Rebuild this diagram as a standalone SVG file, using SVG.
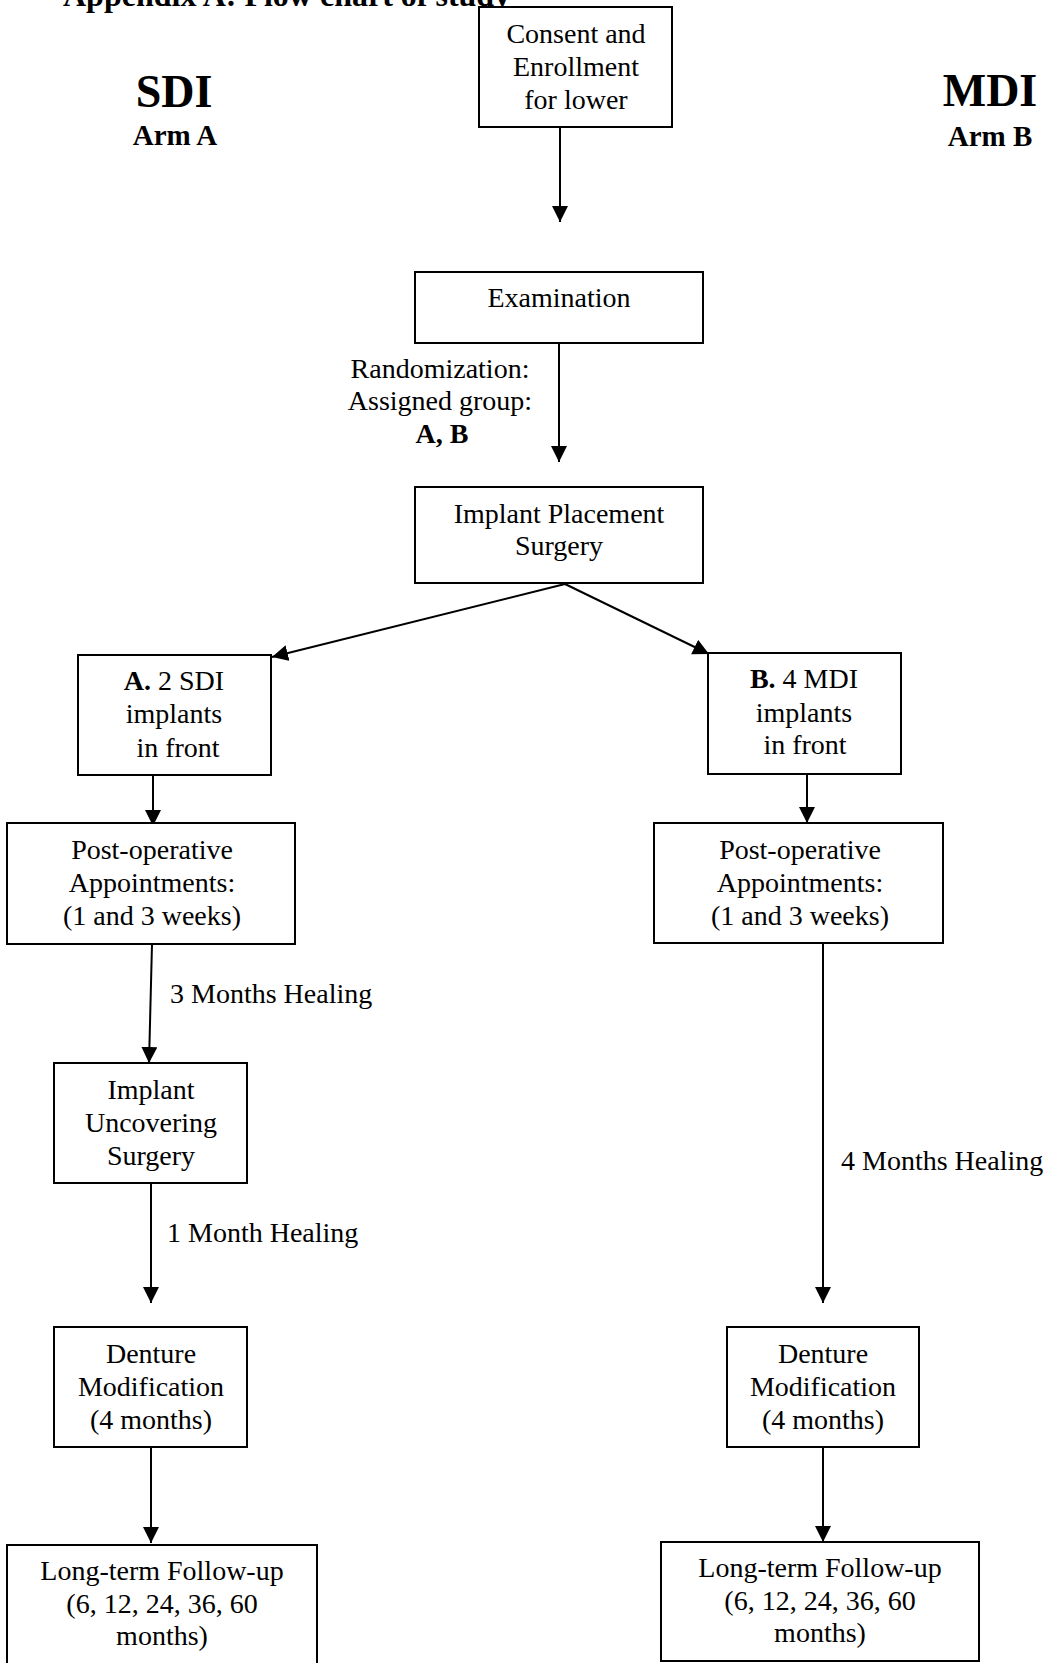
<svg xmlns="http://www.w3.org/2000/svg" width="1050" height="1663" viewBox="0 0 1050 1663">
<style>
.bg{fill:#ffffff}
.box{fill:#ffffff;stroke:#000000;stroke-width:2}
.t{font-family:"Liberation Serif","Times New Roman",serif;font-size:28px;fill:#000000;text-anchor:middle}
.l{font-family:"Liberation Serif","Times New Roman",serif;font-size:28px;fill:#000000}
.b{font-weight:bold}
.title{font-family:"Liberation Serif","Times New Roman",serif;font-size:32px;font-weight:bold;fill:#000000}
.arm{font-family:"Liberation Serif","Times New Roman",serif;font-weight:bold;fill:#000000;text-anchor:middle}
.edge{fill:none;stroke:#000000;stroke-width:2;marker-end:url(#arrow)}
</style>
<defs>
<marker id="arrow" markerUnits="userSpaceOnUse" markerWidth="18" markerHeight="18" refX="16" refY="8" orient="auto">
<path d="M0,0 L16,8 L0,16 z" fill="#000000"/>
</marker>
</defs>
<rect class="bg" x="0" y="0" width="1050" height="1663"/>

<g id="headings">
<text class="title" x="63" y="6">Appendix A: Flow chart of study</text>
<text class="arm" x="174" y="107" font-size="46">SDI</text>
<text class="arm" x="175" y="145" font-size="29">Arm A</text>
<text class="arm" x="990" y="106" font-size="46">MDI</text>
<text class="arm" x="990" y="146" font-size="29">Arm B</text>
</g>

<g id="connectors">
<line class="edge" x1="560" y1="127" x2="560" y2="222"/>
<line class="edge" x1="559" y1="343" x2="559" y2="462"/>
<line class="edge" x1="565" y1="584" x2="272" y2="657"/>
<line class="edge" x1="565" y1="584" x2="709" y2="654"/>
<line class="edge" x1="153" y1="775" x2="153" y2="826"/>
<line class="edge" x1="807" y1="774" x2="807" y2="823"/>
<line class="edge" x1="152" y1="944" x2="149" y2="1063"/>
<line class="edge" x1="151" y1="1183" x2="151" y2="1303"/>
<line class="edge" x1="823" y1="943" x2="823" y2="1303"/>
<line class="edge" x1="151" y1="1447" x2="151" y2="1543"/>
<line class="edge" x1="823" y1="1447" x2="823" y2="1542"/>
<text class="l" x="170" y="1003">3 Months Healing</text>
<text class="l" x="167" y="1242">1 Month Healing</text>
<text class="l" x="841" y="1170">4 Months Healing</text>
<text class="t" x="440" y="378">Randomization:</text>
<text class="t" x="440" y="410">Assigned group:</text>
<text class="t b" x="442" y="443">A, B</text>
</g>

<g id="consent">
<rect class="box" x="479" y="7" width="193" height="120"/>
<text class="t" x="576" y="43">Consent and</text>
<text class="t" x="576" y="76">Enrollment</text>
<text class="t" x="576" y="109">for lower</text>
</g>

<g id="examination">
<rect class="box" x="415" y="272" width="288" height="71"/>
<text class="t" x="559" y="307">Examination</text>
</g>

<g id="placement">
<rect class="box" x="415" y="487" width="288" height="96"/>
<text class="t" x="559" y="523">Implant Placement</text>
<text class="t" x="559" y="555">Surgery</text>
</g>

<g id="armA">
<rect class="box" x="78" y="655" width="193" height="120"/>
<text class="t" x="174" y="690"><tspan class="b">A.</tspan> 2 SDI</text>
<text class="t" x="174" y="723">implants</text>
<text class="t" x="178" y="757">in front</text>
</g>

<g id="armB">
<rect class="box" x="708" y="653" width="193" height="121"/>
<text class="t" x="804" y="688"><tspan class="b">B.</tspan> 4 MDI</text>
<text class="t" x="804" y="722">implants</text>
<text class="t" x="805" y="754">in front</text>
</g>

<g id="postopA">
<rect class="box" x="7" y="823" width="288" height="121"/>
<text class="t" x="152" y="859">Post-operative</text>
<text class="t" x="152" y="892">Appointments:</text>
<text class="t" x="152" y="925">(1 and 3 weeks)</text>
</g>

<g id="postopB">
<rect class="box" x="654" y="823" width="289" height="120"/>
<text class="t" x="800" y="859">Post-operative</text>
<text class="t" x="800" y="892">Appointments:</text>
<text class="t" x="800" y="925">(1 and 3 weeks)</text>
</g>

<g id="uncovering">
<rect class="box" x="54" y="1063" width="193" height="120"/>
<text class="t" x="151" y="1099">Implant</text>
<text class="t" x="151" y="1132">Uncovering</text>
<text class="t" x="151" y="1165">Surgery</text>
</g>

<g id="dentureA">
<rect class="box" x="54" y="1327" width="193" height="120"/>
<text class="t" x="151" y="1363">Denture</text>
<text class="t" x="151" y="1396">Modification</text>
<text class="t" x="151" y="1429">(4 months)</text>
</g>

<g id="dentureB">
<rect class="box" x="727" y="1327" width="192" height="120"/>
<text class="t" x="823" y="1363">Denture</text>
<text class="t" x="823" y="1396">Modification</text>
<text class="t" x="823" y="1429">(4 months)</text>
</g>

<g id="followupA">
<rect class="box" x="7" y="1545" width="310" height="130"/>
<text class="t" x="162" y="1580">Long-term Follow-up</text>
<text class="t" x="162" y="1613">(6, 12, 24, 36, 60</text>
<text class="t" x="162" y="1645">months)</text>
</g>

<g id="followupB">
<rect class="box" x="661" y="1542" width="318" height="119"/>
<text class="t" x="820" y="1577">Long-term Follow-up</text>
<text class="t" x="820" y="1610">(6, 12, 24, 36, 60</text>
<text class="t" x="820" y="1642">months)</text>
</g>
</svg>
